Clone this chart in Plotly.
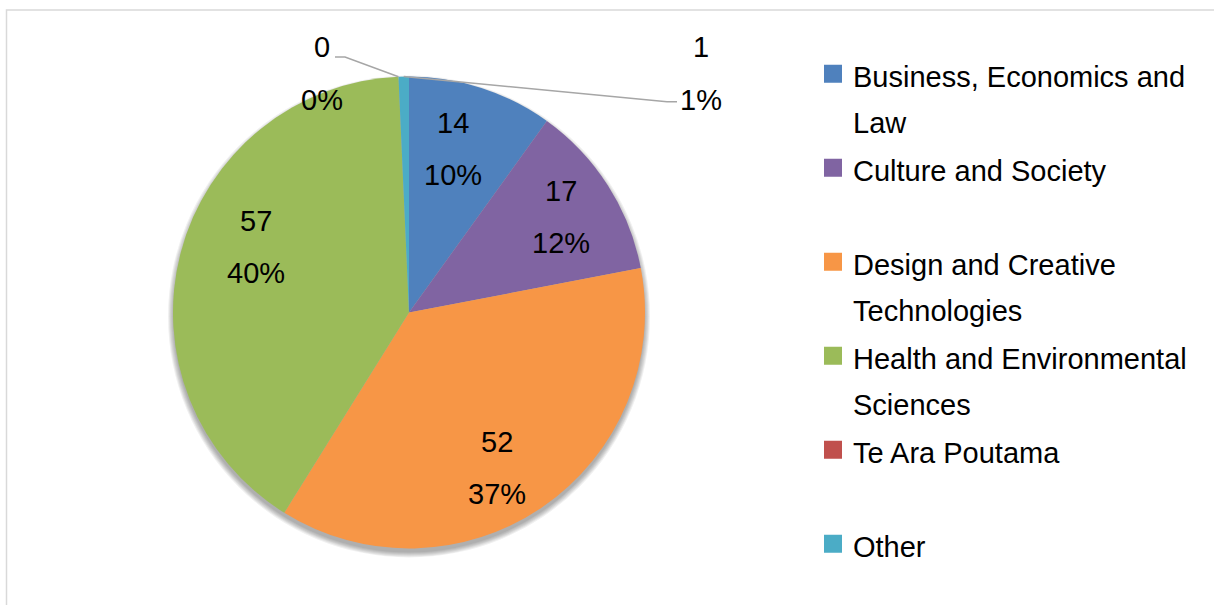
import math
import plotly.graph_objects as go

# ---------------- data ----------------
categories = [
    "Business, Economics and Law",
    "Culture and Society",
    "Design and Creative Technologies",
    "Health and Environmental Sciences",
    "Te Ara Poutama",
    "Other",
]
values = [14, 17, 52, 57, 0, 1]
colors = ["#4F81BD", "#8064A2", "#F79646", "#9BBB59", "#C0504D", "#4BACC6"]
legend_lines = [
    ["Business, Economics and", "Law"],
    ["Culture and Society", " "],
    ["Design and Creative", "Technologies"],
    ["Health and Environmental", "Sciences"],
    ["Te Ara Poutama", " "],
    ["Other"],
]

# ---------------- layout geometry (pixels) ----------------
W, H = 1214, 605
CX, CY, R = 409, 312.5, 236
FONT = "Arial, Liberation Sans, sans-serif"
TXT = 29

def px(x):
    return x / W

def py(y):
    return 1 - y / H

total = sum(values)
starts = []
acc = 0
for v in values:
    starts.append(acc / total * 360)
    acc += v
mids = [s + v / total * 180 for s, v in zip(starts, values)]

def on_pie(angle_deg, r):
    a = math.radians(angle_deg)
    return CX + r * math.sin(a), CY - r * math.cos(a)

fig = go.Figure()

# soft shadow under the pie (offset downwards)
for i in range(0, 6):
    rr = R + i
    fig.add_trace(go.Pie(
        labels=["shadow%d" % i], values=[1], sort=False,
        marker=dict(colors=["rgba(0,0,0,0.06)"]),
        textinfo="none", hoverinfo="skip", showlegend=False,
        domain=dict(x=[px(CX - rr), px(CX + rr)],
                    y=[py(CY + 4 + rr), py(CY + 4 - rr)]),
    ))

fig.add_trace(go.Pie(
    labels=categories, values=values, sort=False,
    direction="clockwise", rotation=0,
    marker=dict(colors=colors),
    textinfo="none", hoverinfo="label+value+percent",
    showlegend=False,
    domain=dict(x=[px(CX - R), px(CX + R)], y=[py(CY + R), py(CY - R)]),
))

# legend entries (square swatches) matching the slices
span = lambda s: "<span style='font-size:%dpx'>%s</span>" % (TXT, s)
for cat, col, lines in zip(categories, colors, legend_lines):
    fig.add_trace(go.Scatter(
        x=[None], y=[None], mode="markers",
        name="<br>".join(span(l) for l in lines),
        marker=dict(symbol="square", size=16, color=col, line=dict(color=col, width=2)),
        hoverinfo="skip", showlegend=True,
    ))

# ---------------- data labels ----------------
# inside labels: (angle nudge from slice middle, radial fraction)
inside_style = {0: (-2.8, 0.717), 1: (0.45, 0.761), 2: (5.0, 0.757), 3: (8.5, 0.705)}
annotations = []
GAP = 26
for i, (nudge, frac) in inside_style.items():
    x, y = on_pie(mids[i] + nudge, R * frac)
    pct = "%d%%" % round(values[i] / total * 100)
    for txt, dy in ((str(values[i]), -GAP), (pct, GAP)):
        annotations.append(dict(x=px(x), y=py(y + dy), xref="paper", yref="paper",
                                text=txt, showarrow=False, xanchor="center", yanchor="middle",
                                font=dict(family=FONT, size=TXT, color="black")))

# outside labels with leader lines: label centre, elbow, end of leader
outside_style = {
    4: dict(label=(322, 73.5), elbow=(345, 57), end=(335, 57)),
    5: dict(label=(701.5, 73.5), elbow=(667, 101.7), end=(677, 101.7)),
}
shapes = []
for i, st in outside_style.items():
    lx, ly = st["label"]
    pct = "%d%%" % round(values[i] / total * 100)
    for txt, dy in ((str(values[i]), -GAP), (pct, GAP)):
        annotations.append(dict(x=px(lx), y=py(ly + dy), xref="paper", yref="paper",
                                text=txt, showarrow=False, xanchor="center", yanchor="middle",
                                font=dict(family=FONT, size=TXT, color="black")))
    ax, ay = on_pie(mids[i], R)
    ex, ey = st["elbow"]
    tx, ty = st["end"]
    shapes.append(dict(type="path", xref="paper", yref="paper",
                       path="M %f,%f L %f,%f L %f,%f" % (px(ax), py(ay), px(ex), py(ey), px(tx), py(ty)),
                       line=dict(color="#A6A6A6", width=1.5)))

# chart-area border
shapes.append(dict(type="rect", xref="paper", yref="paper",
                   x0=px(6.5), x1=px(W + 20), y0=py(H + 20), y1=py(10),
                   line=dict(color="#D9D9D9", width=1.5), layer="below"))

fig.update_layout(
    width=W, height=H,
    margin=dict(l=0, r=0, t=0, b=0),
    paper_bgcolor="white", plot_bgcolor="white",
    font=dict(family=FONT, color="black"),
    xaxis=dict(visible=False), yaxis=dict(visible=False),
    showlegend=True,
    legend=dict(x=px(813), y=py(44.5), xanchor="left", yanchor="top",
                font=dict(family=FONT, size=35, color="black"),
                valign="top", traceorder="normal", bgcolor="rgba(0,0,0,0)"),
    annotations=annotations,
    shapes=shapes,
)

fig.write_html(
    "out.html",
    config={"displayModeBar": False},
    post_script="document.body.style.margin='0';document.body.style.overflow='hidden';",
)
